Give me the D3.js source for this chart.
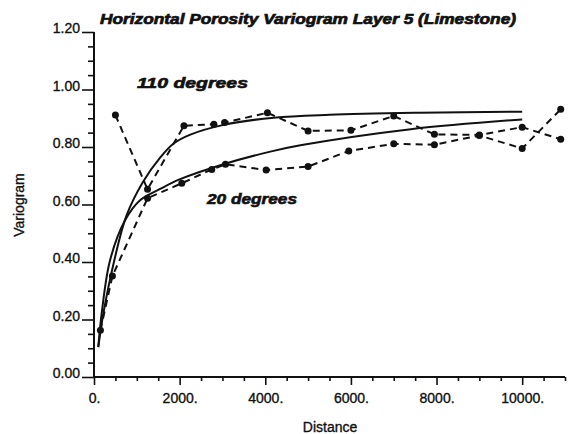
<!DOCTYPE html>
<html>
<head>
<meta charset="utf-8">
<script src="https://cdn.jsdelivr.net/npm/d3@7"></script>
<style>
  html, body { margin: 0; padding: 0; background: #fff; }
  svg { display: block; }
  text { font-family: "Liberation Sans", Arial, Helvetica, sans-serif; fill: #111; }
</style>
</head>
<body>
<svg id="chart" width="576" height="434"></svg>
<script>
// ---- data ----
const title = "Horizontal Porosity Variogram Layer 5 (Limestone)";
const xLabel = "Distance";
const yLabel = "Variogram";
const seriesNames = ["110 degrees", "20 degrees"];

const xTicks = [0, 2000, 4000, 6000, 8000, 10000];
const yTicks = [0, 0.2, 0.4, 0.6, 0.8, 1.0, 1.2];

// experimental variogram, 110 degrees
const exp110Lag = [500, 1250, 2100, 2800, 3050, 4050, 5000, 6000, 7000, 7950, 9000, 10000, 10900];
const exp110Val = [0.911, 0.653, 0.874, 0.879, 0.885, 0.919, 0.856, 0.858, 0.908, 0.844, 0.842, 0.869, 0.827];

// experimental variogram, 20 degrees
const exp20Lag = [150, 430, 1250, 2050, 2750, 3070, 4020, 5000, 5950, 7000, 7950, 9000, 10000, 10900];
const exp20Val = [0.163, 0.351, 0.622, 0.674, 0.722, 0.740, 0.720, 0.732, 0.786, 0.811, 0.808, 0.840, 0.795, 0.931];

// fitted model, 110 degrees
const mod110Lag = [100, 220, 475, 760, 1150, 1540, 1860, 2250, 3030, 4200, 5500, 7600, 10000];
const mod110Val = [0.104, 0.222, 0.406, 0.562, 0.680, 0.762, 0.812, 0.843, 0.877, 0.902, 0.912, 0.919, 0.923];

// fitted model, 20 degrees
const mod20Lag = [100, 180, 375, 725, 1076, 1544, 2012, 3025, 4117, 4820, 7400, 10000];
const mod20Val = [0.104, 0.222, 0.406, 0.545, 0.615, 0.654, 0.688, 0.740, 0.784, 0.806, 0.862, 0.896];

// ---- chart ----
const svg = d3.select("#chart");
const x = d3.scaleLinear().domain([0, 11000]).range([94, 565]);
const y = d3.scaleLinear().domain([0, 1.2]).range([377, 32]);

const zip = (a, b) => a.map((d, i) => [d, b[i]]);
const ink = "#111";

// axes
const xMinor = d3.range(0, 11001, 500).filter(v => v % 2000 !== 0);
const yMinor = d3.range(0, 1.2001, 0.05).filter(v => Math.abs(v / 0.2 - Math.round(v / 0.2)) > 1e-6);

const gx = svg.append("g").attr("transform", `translate(0,${y(0)})`);
gx.call(d3.axisBottom(x).tickValues(xTicks).tickSize(8).tickPadding(6)
  .tickFormat(d => d + "."));
const gxm = svg.append("g").attr("transform", `translate(0,${y(0)})`);
gxm.call(d3.axisBottom(x).tickValues(xMinor).tickSize(4).tickFormat(""));
gxm.select(".domain").remove();

const gy = svg.append("g").attr("transform", `translate(${x(0)},0)`);
gy.call(d3.axisLeft(y).tickValues(yTicks).tickSize(12).tickPadding(2)
  .tickFormat(d3.format(".2f")));
const gym = svg.append("g").attr("transform", `translate(${x(0)},0)`);
gym.call(d3.axisLeft(y).tickValues(yMinor).tickSize(6).tickFormat(""));
gym.select(".domain").remove();

[gx, gxm, gy, gym].forEach(g => {
  g.selectAll(".domain").attr("stroke", ink).attr("stroke-width", 2);
  g.selectAll(".tick line").attr("stroke", ink).attr("stroke-width", 1.6);
  g.selectAll(".tick text").style("font-size", "14px").attr("fill", ink)
    .attr("stroke", ink).attr("stroke-width", 0.35);
});
gx.select(".domain").attr("d", `M${x(0)},0H${x(11000)}`);
gy.select(".domain").attr("d", `M0,${y(1.2)}V${y(0)}`);
gy.selectAll(".tick text").attr("dy", "0.05em");
gx.selectAll(".tick text").attr("dy", "0.85em");

// model curves
const line = d3.line().x(d => x(d[0])).y(d => y(d[1])).curve(d3.curveCatmullRom.alpha(0.5));
svg.append("path").datum(zip(mod110Lag, mod110Val)).attr("d", line)
  .attr("fill", "none").attr("stroke", ink).attr("stroke-width", 2);
svg.append("path").datum(zip(mod20Lag, mod20Val)).attr("d", line)
  .attr("fill", "none").attr("stroke", ink).attr("stroke-width", 2);

// experimental (dashed + dots)
const lineL = d3.line().x(d => x(d[0])).y(d => y(d[1]));
[[exp110Lag, exp110Val], [exp20Lag, exp20Val]].forEach(([lags, vals]) => {
  const pts = zip(lags, vals);
  svg.append("path").datum(pts).attr("d", lineL)
    .attr("fill", "none").attr("stroke", ink).attr("stroke-width", 2)
    .attr("stroke-dasharray", "7,5");
  svg.append("g").selectAll("circle").data(pts).join("circle")
    .attr("cx", d => x(d[0])).attr("cy", d => y(d[1])).attr("r", 3.5)
    .attr("fill", ink);
});

// title
svg.append("text").attr("x", 100).attr("y", 24)
  .attr("textLength", 416).attr("lengthAdjust", "spacingAndGlyphs")
  .style("font-size", "14px").style("font-weight", "bold").style("font-style", "italic")
  .attr("stroke", ink).attr("stroke-width", 0.7)
  .text(title);

// series labels
svg.append("text").attr("x", 137).attr("y", 88)
  .attr("textLength", 111).attr("lengthAdjust", "spacingAndGlyphs")
  .style("font-size", "14px").style("font-weight", "bold").style("font-style", "italic")
  .attr("stroke", ink).attr("stroke-width", 0.6)
  .text(seriesNames[0]);
svg.append("text").attr("x", 207).attr("y", 204)
  .attr("textLength", 90).attr("lengthAdjust", "spacingAndGlyphs")
  .style("font-size", "14px").style("font-weight", "bold").style("font-style", "italic")
  .attr("stroke", ink).attr("stroke-width", 0.6)
  .text(seriesNames[1]);

// axis titles
svg.append("text").attr("x", 330).attr("y", 432).attr("text-anchor", "middle")
  .style("font-size", "14px").attr("stroke", ink).attr("stroke-width", 0.35).text(xLabel);
svg.append("text").attr("transform", "translate(24,205) rotate(-90)").attr("text-anchor", "middle")
  .style("font-size", "14px").attr("stroke", ink).attr("stroke-width", 0.35).text(yLabel);
</script>
</body>
</html>
